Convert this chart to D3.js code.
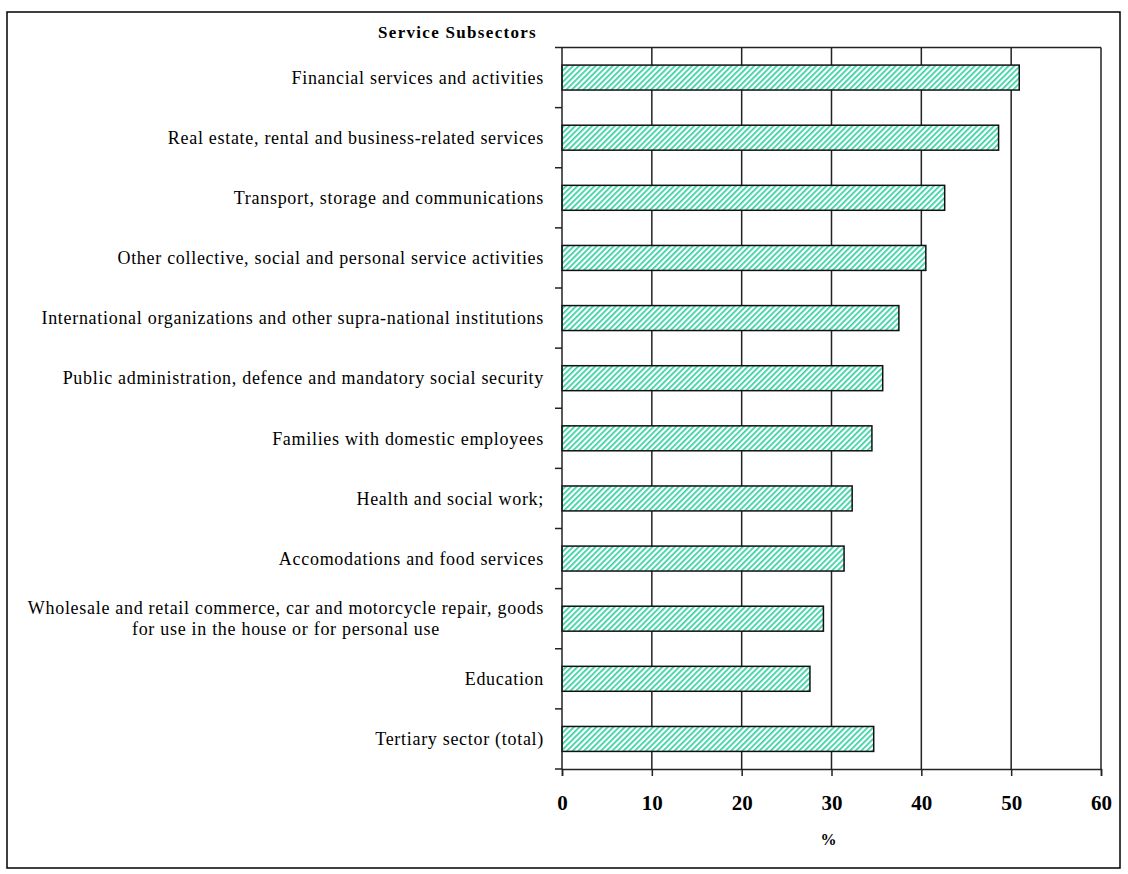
<!DOCTYPE html>
<html>
<head>
<meta charset="utf-8">
<script src="https://cdn.jsdelivr.net/npm/d3@7"></script>
<style>
  body { margin: 0; background: #fff; }
  svg { display: block; }
</style>
</head>
<body>
<div id="chart"></div>
<script>
// Data
var categories = [
  "Financial services and activities",
  "Real estate, rental and business-related services",
  "Transport, storage and communications",
  "Other collective, social and personal service activities",
  "International organizations and other supra-national institutions",
  "Public administration, defence and mandatory social security",
  "Families with domestic employees",
  "Health and social work;",
  "Accomodations and food services",
  "Wholesale and retail commerce, car and motorcycle repair, goods|for use in the house or for personal use",
  "Education",
  "Tertiary sector (total)"
];
var values = [50.9, 48.6, 42.6, 40.5, 37.5, 35.7, 34.5, 32.3, 31.4, 29.1, 27.6, 34.7];
var xTicks = [0, 10, 20, 30, 40, 50, 60];

var W = 1128, H = 874,
    font_family = "'Liberation Serif', 'Times New Roman', serif";
var margin = {top: 47.5, right: 27, bottom: 105, left: 562},
    width = W - margin.left - margin.right,
    height = H - margin.top - margin.bottom;

var svg = d3.select("#chart").append("svg")
  .attr("width", W)
  .attr("height", H);

// outer frame
svg.append("rect")
  .attr("x", 7).attr("y", 12)
  .attr("width", 1113).attr("height", 856)
  .attr("fill", "none")
  .attr("stroke", "#000")
  .attr("stroke-width", 1.5);

// hatch pattern
var pat = svg.append("defs").append("pattern")
  .attr("id", "hatch")
  .attr("patternUnits", "userSpaceOnUse")
  .attr("width", 4).attr("height", 4)
  .attr("patternTransform", "rotate(45)");
pat.append("rect").attr("width", 4).attr("height", 4).attr("fill", "#fff");
pat.append("rect").attr("width", 1.7).attr("height", 4).attr("fill", "#33d0a0");

var g = svg.append("g")
  .attr("transform", "translate(" + margin.left + "," + margin.top + ")");

var x = d3.scaleLinear().domain([0, 60]).range([0, width]);
var y = d3.scaleBand().domain(categories).range([0, height]).padding(0);
var barH = y.bandwidth() * 0.415;

// gridlines
g.selectAll(".grid")
  .data(xTicks.slice(1))
  .enter().append("line")
    .attr("x1", function(d) { return x(d); })
    .attr("x2", function(d) { return x(d); })
    .attr("y1", 0).attr("y2", height)
    .attr("stroke", "#222")
    .attr("stroke-width", 1.5);

// top border
g.append("line")
  .attr("x1", 0).attr("x2", width)
  .attr("y1", 0).attr("y2", 0)
  .attr("stroke", "#222").attr("stroke-width", 1.5);

// bars
g.selectAll(".bar")
  .data(values)
  .enter().append("rect")
    .attr("class", "bar")
    .attr("x", x(0))
    .attr("y", function(d, i) { return y(categories[i]) + (y.bandwidth() - barH) / 2; })
    .attr("width", function(d) { return x(d) - x(0); })
    .attr("height", barH)
    .attr("fill", "url(#hatch)")
    .attr("stroke", "#111")
    .attr("stroke-width", 1.5);

// y axis line and ticks at band boundaries
g.append("line")
  .attr("x1", 0).attr("x2", 0)
  .attr("y1", 0).attr("y2", height)
  .attr("stroke", "#222").attr("stroke-width", 1.5);

var bounds = categories.map(function(c) { return y(c); }).concat([height]);
g.selectAll(".ytick")
  .data(bounds)
  .enter().append("line")
    .attr("x1", -7).attr("x2", 0)
    .attr("y1", function(d) { return d; })
    .attr("y2", function(d) { return d; })
    .attr("stroke", "#222").attr("stroke-width", 1.5);

// x axis
var xAxis = g.append("g")
  .attr("transform", "translate(0," + height + ")")
  .call(d3.axisBottom(x).tickValues(xTicks).tickSize(7).tickPadding(19).tickFormat(d3.format("d")));
xAxis.select(".domain").attr("stroke", "#222").attr("stroke-width", 1.5);
xAxis.selectAll(".tick line").attr("stroke", "#222").attr("stroke-width", 1.5);
xAxis.selectAll(".tick text")
  .attr("font-family", font_family)
  .attr("font-size", "21px")
  .attr("font-weight", "bold")
  .attr("fill", "#000");

// category labels
var labelX = -18;
categories.forEach(function(c) {
  var lines = c.split("|"),
      cy = y(c) + y.bandwidth() / 2;
  var t = g.append("text")
    .attr("font-family", font_family)
    .attr("font-size", "18px")
    .attr("letter-spacing", "0.7px")
    .attr("fill", "#000");
  if (lines.length == 1) {
    t.attr("x", labelX).attr("y", cy).attr("dy", "0.35em")
      .attr("text-anchor", "end").text(c);
  } else {
    var spans = lines.map(function(l, i) {
      return t.append("tspan")
        .attr("y", cy + (i - (lines.length - 1) / 2) * 21)
        .attr("dy", "0.35em")
        .text(l);
    });
    var maxW = d3.max(spans, function(s) { return s.node().getComputedTextLength(); });
    t.attr("text-anchor", "middle");
    spans.forEach(function(s) { s.attr("x", labelX - maxW / 2); });
  }
});

// titles
g.append("text")
  .attr("x", -25).attr("y", -15)
  .attr("dy", "0.35em")
  .attr("text-anchor", "end")
  .attr("font-family", font_family)
  .attr("font-size", "17px")
  .attr("letter-spacing", "1.3px")
  .attr("font-weight", "bold")
  .text("Service Subsectors");

g.append("text")
  .attr("x", x(30) - 3).attr("y", height + 70)
  .attr("dy", "0.35em")
  .attr("text-anchor", "middle")
  .attr("font-family", font_family)
  .attr("font-size", "16px")
  .attr("font-weight", "bold")
  .text("%");
</script>
</body>
</html>
